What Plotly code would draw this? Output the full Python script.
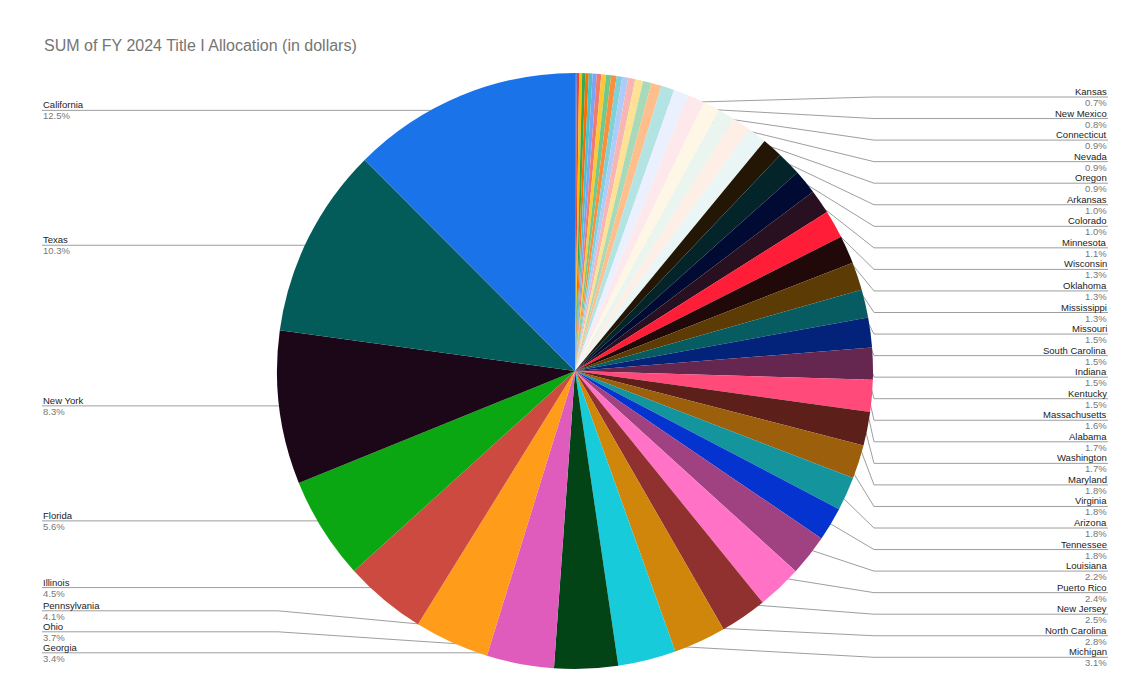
import math
import plotly.graph_objects as go

states = ["California", "Texas", "New York", "Florida", "Illinois", "Pennsylvania", "Ohio", "Georgia",
          "Michigan", "North Carolina", "New Jersey", "Puerto Rico", "Louisiana", "Tennessee", "Arizona",
          "Virginia", "Maryland", "Washington", "Alabama", "Massachusetts", "Kentucky", "Indiana",
          "South Carolina", "Missouri", "Mississippi", "Oklahoma", "Wisconsin", "Minnesota", "Colorado",
          "Arkansas", "Oregon", "Nevada", "Connecticut", "New Mexico", "Kansas",
          "West Virginia", "Utah", "Iowa", "Nebraska", "Idaho", "Hawaii", "District of Columbia",
          "Rhode Island", "Maine", "Montana", "Delaware", "South Dakota", "Alaska", "North Dakota",
          "New Hampshire", "Vermont", "Wyoming"]
shares = [12.3, 10.2, 8.2, 5.5, 4.4, 4.0, 3.6, 3.4,
          3.1, 2.8, 2.5, 2.4, 2.2, 1.8, 1.8,
          1.8, 1.8, 1.7, 1.7, 1.6, 1.5, 1.5,
          1.5, 1.5, 1.3, 1.3, 1.3, 1.1, 1.0,
          1.0, 0.9, 0.9, 0.9, 0.8, 0.7,
          0.55, 0.45, 0.42, 0.38, 0.32, 0.30, 0.29,
          0.27, 0.25, 0.24, 0.22, 0.20, 0.18, 0.17,
          0.16, 0.12, 0.10]
colors = ["#1a73e8", "#045c5a", "#1b0718", "#0ba712", "#cc4a3f", "#ff9c1a", "#df5cbd", "#034416",
          "#17cbdb", "#cf860b", "#90302f", "#ff72c6", "#a04182", "#0433cf", "#14949c",
          "#9c5f0b", "#5c1f1a", "#ff4a7a", "#65264f", "#03237a", "#075c62", "#5c3b04",
          "#21090a", "#ff1d37", "#281021", "#000a33", "#03252a", "#231604", "#eaf6f6",
          "#fdeee6", "#e9f5ee", "#fef7e6", "#fde9ec", "#eaf0fd", "#b4e3e4",
          "#ffbf8c", "#a8d9b8", "#fde293", "#f7b6b2", "#aecbfa", "#7ed1d6", "#fa903e",
          "#6fc98a", "#fcc934", "#f07b72", "#7aa5f5", "#4ec1c7", "#ff6d01", "#34a853",
          "#fbbc04", "#ea4335", "#4285f4"]

left_labels = states[:8]
right_labels = states[8:35]

W, H = 1133, 700
cx, cy, R = 567, 363, 298
dy = -6  # vertical nudge for texts / leader ends
fig = go.Figure()
# drawn clockwise in reverse so California ends at 12 o'clock (counterclockwise order from top)
fig.add_trace(go.Pie(
    labels=states[::-1], values=shares[::-1], sort=False, direction="clockwise",
    marker=dict(colors=colors[::-1], line=dict(width=0)), textinfo="none", hoverinfo="label+percent",
    domain=dict(x=[(cx - R) / W, (cx + R) / W], y=[1 - (cy + R) / H, 1 - (cy - R) / H]),
    showlegend=False,
))

total = sum(shares)
pts = {}
cum = 0
for s, v in zip(states, shares):
    th = 2 * math.pi * (cum + v / 2) / total
    pts[s] = (cx - 282 * math.sin(th), cy - 282 * math.cos(th))
    cum += v

annotations = []
def add_label(name, x, y, anchor):
    pct = "%.1f%%" % (100 * shares[states.index(name)] / total)
    annotations.append(dict(x=x, y=y + 1, text=name, xanchor=anchor, yanchor="bottom", showarrow=False,
                            font=dict(size=9.5, color="#222222"), xref="x", yref="y", borderpad=0))
    annotations.append(dict(x=x, y=y - 1, text=pct, xanchor=anchor, yanchor="top", showarrow=False,
                            font=dict(size=9.5, color="#777777"), xref="x", yref="y", borderpad=0))

def leader(xs, ys):
    fig.add_trace(go.Scatter(x=xs, y=ys, mode="lines", line=dict(color="#9e9e9e", width=1),
                             hoverinfo="skip", showlegend=False))
    fig.add_trace(go.Scatter(x=[xs[-1]], y=[ys[-1]], mode="markers", marker=dict(color="#8a8a8a", size=4),
                             hoverinfo="skip", showlegend=False))

# left side
ly = [min(pts[s][1], 655 + dy) for s in left_labels]
for i in range(len(ly) - 2, -1, -1):
    ly[i] = min(ly[i], ly[i + 1] - 21)
for s, y in zip(left_labels, ly):
    px, py = pts[s]
    leader([34, 270, px], [y, y, py])
    add_label(s, 34, y, "left")

# right side
for k, s in enumerate(reversed(right_labels)):
    y = 95 + dy + 21.55 * k
    px, py = pts[s]
    leader([1100, 866, px], [y, y, py])
    add_label(s, 1100, y, "right")

fig.update_layout(
    width=W, height=H, margin=dict(l=0, r=0, t=0, b=0),
    paper_bgcolor="white", plot_bgcolor="rgba(0,0,0,0)",
    font=dict(family="Arial, Liberation Sans, sans-serif"),
    xaxis=dict(range=[0, W], visible=False, fixedrange=True),
    yaxis=dict(range=[H, 0], visible=False, fixedrange=True),
    annotations=annotations + [dict(x=34, y=43 + dy, text="SUM of FY 2024 Title I Allocation (in dollars)",
                                    xanchor="left", yanchor="middle", showarrow=False, xref="x", yref="y",
                                    font=dict(size=16, color="#757575"))],
)
fig.write_html("out.html")
